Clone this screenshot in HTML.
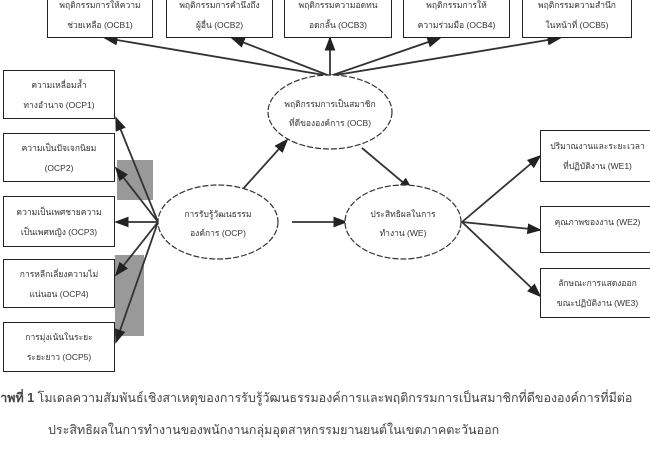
<!DOCTYPE html>
<html><head><meta charset="utf-8"><style>
body{margin:0;background:#fff;width:650px;height:450px;overflow:hidden;position:relative;font-family:"Liberation Sans","Noto Sans CJK SC",sans-serif}
.b{position:absolute;border:1.5px solid #222;background:#fff;font-size:8.5px;color:#333;text-align:center;display:flex;align-items:center;justify-content:center;line-height:20px;box-sizing:border-box}
.cap{position:absolute;font-size:12.5px;color:#444;white-space:nowrap}
</style></head><body>
<svg width="650" height="450" style="position:absolute;left:0;top:0">
<defs><marker id="a" markerWidth="8" markerHeight="8" refX="7" refY="4" orient="auto"><path d="M0,1 L8,4 L0,7z" fill="#222"/></marker></defs>
<rect x="117" y="160" width="36" height="40" fill="#999"/>
<rect x="115" y="255" width="29" height="81" fill="#999"/>
<g stroke="#333" stroke-width="1.8" fill="none" marker-end="url(#a)">
<line x1="330" y1="76" x2="105" y2="38"/><line x1="330" y1="76" x2="232" y2="38"/><line x1="330" y1="76" x2="330" y2="38"/><line x1="330" y1="76" x2="440" y2="38"/><line x1="330" y1="76" x2="560" y2="38"/>
<line x1="158" y1="222" x2="116" y2="118"/><line x1="158" y1="222" x2="116" y2="168"/><line x1="158" y1="222" x2="116" y2="222"/><line x1="158" y1="222" x2="116" y2="275"/><line x1="158" y1="222" x2="116" y2="342"/>
<line x1="242" y1="190" x2="287" y2="140"/><line x1="362" y1="148" x2="412" y2="190"/><line x1="292" y1="222" x2="346" y2="222"/>
<line x1="462" y1="222" x2="540" y2="156"/><line x1="462" y1="222" x2="540" y2="230"/><line x1="462" y1="222" x2="540" y2="296"/>
</g>
<g fill="#fff" stroke="#333" stroke-width="1.2" stroke-dasharray="6,2">
<ellipse cx="330" cy="112" rx="62" ry="37"/><ellipse cx="218" cy="222" rx="60" ry="37"/><ellipse cx="403" cy="222" rx="58" ry="37"/>
</g>
<g font-size="8.5" fill="#333" text-anchor="middle" font-family="Liberation Sans,Noto Sans CJK SC,sans-serif">
<text x="330" y="107">พฤติกรรมการเป็นสมาชิก</text><text x="330" y="126">ที่ดีขององค์การ (OCB)</text>
<text x="218" y="217">การรับรู้วัฒนธรรม</text><text x="218" y="236">องค์การ (OCP)</text>
<text x="403" y="217">ประสิทธิผลในการ</text><text x="403" y="236">ทำงาน (WE)</text>
</g>
</svg>
<div class="b" style="left:47px;top:-8px;width:106px;height:46px">พฤติกรรมการให้ความ<br>ช่วยเหลือ (OCB1)</div>
<div class="b" style="left:166px;top:-8px;width:107px;height:46px">พฤติกรรมการคำนึงถึง<br>ผู้อื่น (OCB2)</div>
<div class="b" style="left:284px;top:-8px;width:108px;height:46px">พฤติกรรมความอดทน<br>อดกลั้น (OCB3)</div>
<div class="b" style="left:403px;top:-8px;width:107px;height:46px">พฤติกรรมการให้<br>ความร่วมมือ (OCB4)</div>
<div class="b" style="left:522px;top:-8px;width:110px;height:46px">พฤติกรรมความสำนึก<br>ในหน้าที่ (OCB5)</div>
<div class="b" style="left:3px;top:70px;width:112px;height:49px">ความเหลื่อมล้ำ<br>ทางอำนาจ (OCP1)</div>
<div class="b" style="left:3px;top:133px;width:112px;height:49px">ความเป็นปัจเจกนิยม<br>(OCP2)</div>
<div class="b" style="left:3px;top:196px;width:112px;height:51px">ความเป็นเพศชายความ<br>เป็นเพศหญิง (OCP3)</div>
<div class="b" style="left:3px;top:259px;width:112px;height:49px">การหลีกเลี่ยงความไม่<br>แน่นอน (OCP4)</div>
<div class="b" style="left:3px;top:322px;width:112px;height:50px">การมุ่งเน้นในระยะ<br>ระยะยาว (OCP5)</div>
<div class="b" style="left:540px;top:130px;width:115px;height:52px">ปริมาณงานและระยะเวลา<br>ที่ปฏิบัติงาน (WE1)</div>
<div class="b" style="left:540px;top:206px;width:115px;height:47px;align-items:flex-start;padding-top:5px">คุณภาพของงาน (WE2)</div>
<div class="b" style="left:540px;top:268px;width:115px;height:50px">ลักษณะการแสดงออก<br>ขณะปฏิบัติงาน (WE3)</div>
<div class="cap" style="left:-8px;top:388px"><b>ภาพที่ 1</b> โมเดลความสัมพันธ์เชิงสาเหตุของการรับรู้วัฒนธรรมองค์การและพฤติกรรมการเป็นสมาชิกที่ดีขององค์การที่มีต่อ</div>
<div class="cap" style="left:48px;top:420px">ประสิทธิผลในการทำงานของพนักงานกลุ่มอุตสาหกรรมยานยนต์ในเขตภาคตะวันออก</div>
</body></html>
